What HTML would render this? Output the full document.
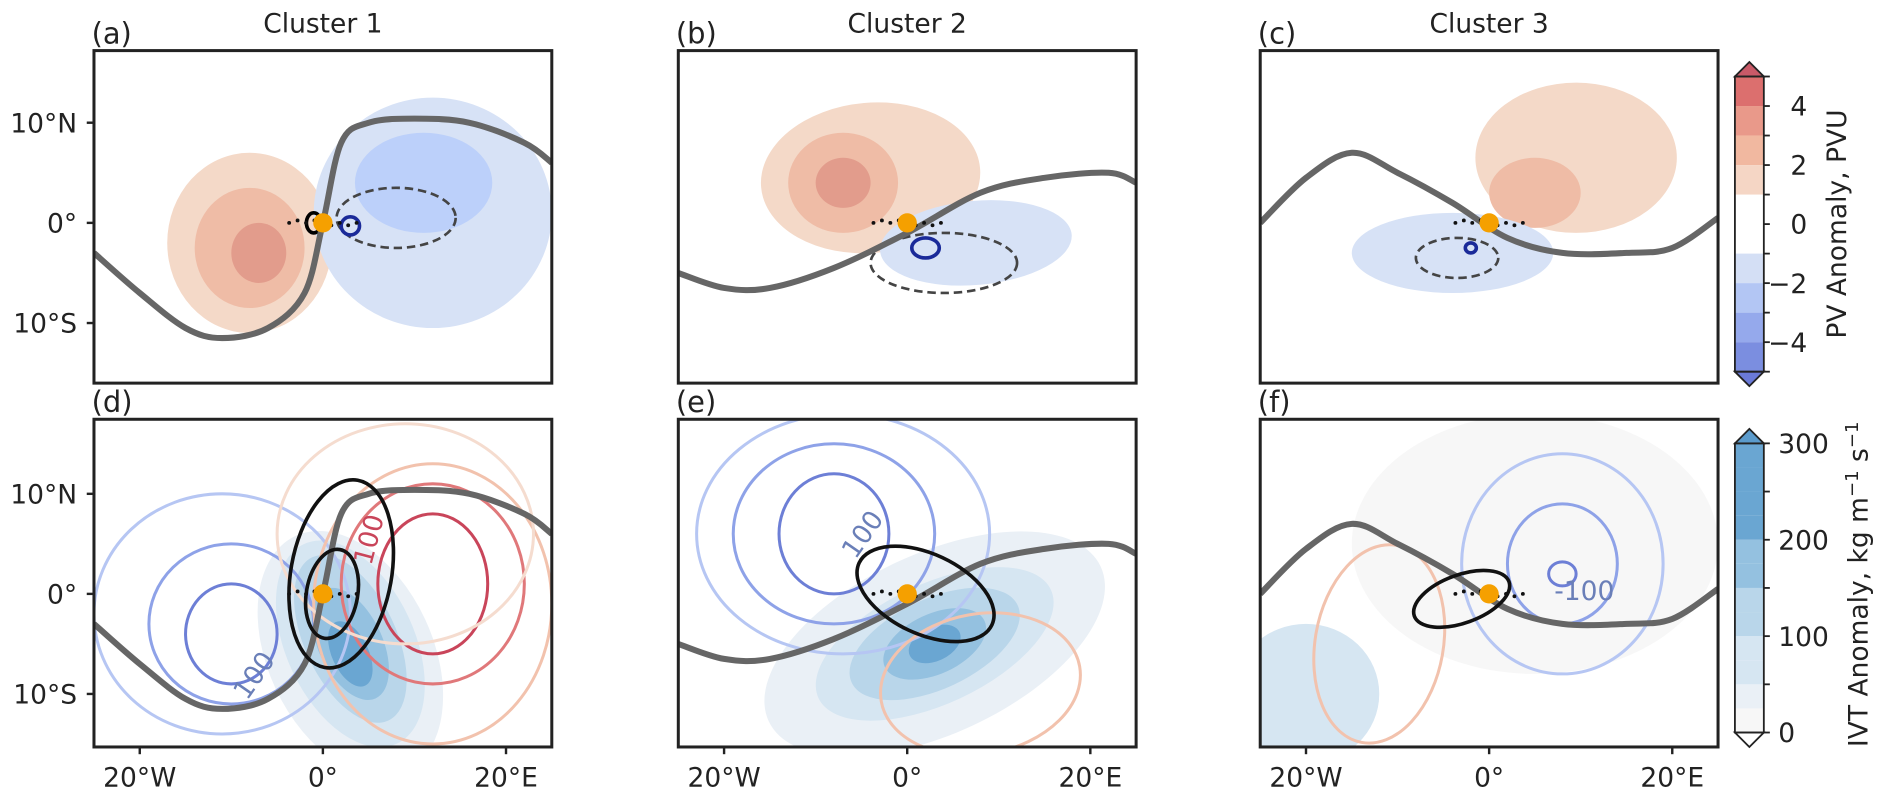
<!DOCTYPE html>
<html><head><meta charset="utf-8"><style>
html,body{margin:0;padding:0;background:#fff;overflow:hidden;width:1892px;height:804px}
#wrap{width:1892px;height:804px;overflow:hidden;position:relative}
#c{display:block;width:1892px;height:804px;transform:scale(1.2048);transform-origin:0 0;position:absolute;left:0;top:0}
svg text{font-family:"DejaVu Sans","Liberation Sans",sans-serif;fill:#222}
</style></head><body>
<div id="wrap">
<svg id="c" viewBox="0 0 1892 804" xmlns="http://www.w3.org/2000/svg"></svg>
</div>
<script>
// ---- data ----
const panelLetters=['(a)','(b)','(c)','(d)','(e)','(f)'];
const columnTitles=['Cluster 1','Cluster 2','Cluster 3'];
const latTicks=[10,0,-10];
const latTickLabels=['10°N','0°','10°S'];
const lonTicks=[-20,0,20];
const lonTickLabels=['20°W','0°','20°E'];
const pvTicks=[4,2,0,-2,-4];
const ivtTicks=[300,200,100,0];
// PV anomaly filled ellipses: [lon,lat,rLon,rLat,angleDeg,value]
const pvFillA=[[-8,-2,9,9,0,1],[-8,-2.5,6,6,0,2],[-7,-3,3,3,0,3],[12,1,13,11.5,0,-1],[11,4,7.5,5,0,-2]];
const pvFillB=[[-4,4.5,12,7.5,-5,1],[-7,4,6,5,0,2],[-7,4,3,2.5,0,3],[7.5,-2,10.5,4.2,-5,-1]];
const pvFillC=[[9.5,6.5,11,7.5,0,1],[5,3,5,3.5,0,2],[-4,-3,11,4,0,-1]];
// dashed (negative) and navy contours per top panel: [lon,lat,rLon,rLat,angle]
const dashedC=[[8,0.5,6.5,3,0],[4,-4,8,3,0],[-3.5,-3.5,4.5,2,0]];
const navyC=[[3,-0.3,1,0.9,0],[2,-2.5,1.5,1,0],[-2,-2.5,0.6,0.5,0]];
// IVT filled ellipses: [lon,lat,rLon,rLat,angle,value]
const ivtA=[[3,-6,9,13,-25,40],[3,-5,7,11,-25,80],[3,-4.5,5,9,-25,130],[3,-5,3.5,6,-25,180],[3,-6,2,3.5,-25,230]];
const ivtB=[[3,-5,20,9,-25,30],[3,-5,14,6,-25,80],[3,-5,10,4.5,-25,130],[3,-5,6,3,-25,180],[3,-5,3,1.7,-25,230]];
const ivtC=[[-20,-10,8,7,0,60],[5,5,20,13,0,15]];
// IVT contour ellipses: [lon,lat,rLon,rLat,angle,level]
const ctA=[[-11,-2,14,12,0,-100],[-10,-3,9,8,0,-200],[-10,-4,5,5,0,-300],[12,-1,13,14,0,100],[12,1,10,10,0,200],[12,1,6,7,0,300],[9,6,14,11,0,50]];
const ctB=[[-7,6,16,12,0,-100],[-8,6,11,9,0,-200],[-8,6,6,6,0,-300],[8,-9,11,7,-10,100]];
const ctC=[[8,3,11,11,0,-100],[8,3,6,6,0,-200],[8,2,1.5,1.2,0,-300],[-12,-5,7,10,10,100]];
// significance black contours
const blkA=[[2,2,5.5,9.5,10],[1,0,2.8,4.5,10]];
const blkB=[[2,0,8,4,25]];
const blkC=[[-3,-0.5,5.5,2.4,-20]];
// grey thick line (PV=2 contour) points [lon,lat]
const lineA=[[-25,-3],[-20,-7],[-15,-10.5],[-11,-11.5],[-6,-10.5],[-2,-7],[0,0],[2,8],[5,10],[10,10.4],[16,10],[22,8],[25,6]];
const lineB=[[-25,-5],[-20,-6.5],[-15,-6.5],[-8,-4.5],[0,-1],[8,3],[15,4.5],[22,5],[25,4]];
const lineC=[[-25,0],[-20,4.5],[-15,7],[-10,5],[-4,2],[2,-1.5],[8,-3],[15,-3],[20,-2.5],[25,0.5]];
// ---- helpers ----
const svg=document.getElementById('c');const NS='http://www.w3.org/2000/svg';
function el(t,a,p){const e=document.createElementNS(NS,t);for(const k in a)e.setAttribute(k,a[k]);(p||svg).appendChild(e);return e;}
const colX=[78,563,1046],W=380,rowY=[42,348],H=[276,272],latTop=[17.2,17.45],latBot=[-16,-15.3];
function xs(c,lon){return colX[c]+(lon+25)/50*W;}
function ys(r,lat){return rowY[r]+(latTop[r]-lat)/(latTop[r]-latBot[r])*H[r];}
function pvColor(v){const m={1:'#f4d9c8',2:'#efbca6',3:'#e29c8c','-1':'#d7e2f6','-2':'#bcd0fa','-3':'#9fb4ef'};return m[v];}
function ivtColor(v){if(v<25)return '#f7f7f7';if(v<50)return '#eaf0f6';if(v<100)return '#d6e6f2';if(v<150)return '#b9d6ea';if(v<200)return '#94c1e0';return '#6aa6d2';}
function ctColor(l){const m={'-300':'#6d7fd6','-200':'#8ea2e8','-100':'#b6c6f3',50:'#f5dccf',100:'#f2c2ad',200:'#e0787a',300:'#c9455a'};return m[l];}
function ell(c,r,e,g,fill,stroke,sw,dash){const cx=xs(c,e[0]),cy=ys(r,e[1]);const rx=e[2]*W/50,ry=e[3]*H[r]/(latTop[r]-latBot[r]);
 const a={cx:cx,cy:cy,rx:rx,ry:ry,transform:`rotate(${e[4]} ${cx} ${cy})`,fill:fill,stroke:stroke||'none','stroke-width':sw||0};if(dash)a['stroke-dasharray']=dash;return el('ellipse',a,g);}
function line(c,r,pts,g){const P=pts.map(p=>[xs(c,p[0]),ys(r,p[1])]);let d='M'+P[0][0].toFixed(1)+' '+P[0][1].toFixed(1);
 for(let i=0;i<P.length-1;i++){const p0=P[Math.max(0,i-1)],p1=P[i],p2=P[i+1],p3=P[Math.min(P.length-1,i+2)];
  const c1=[p1[0]+(p2[0]-p0[0])/6,p1[1]+(p2[1]-p0[1])/6],c2=[p2[0]-(p3[0]-p1[0])/6,p2[1]-(p3[1]-p1[1])/6];
  d+=` C${c1[0].toFixed(1)} ${c1[1].toFixed(1)} ${c2[0].toFixed(1)} ${c2[1].toFixed(1)} ${p2[0].toFixed(1)} ${p2[1].toFixed(1)}`;}
 const p=el('path',{d:d,fill:'none',stroke:'#666','stroke-width':5,'stroke-linejoin':'round'},g);}
const pvFills=[pvFillA,pvFillB,pvFillC],ivts=[ivtA,ivtB,ivtC],cts=[ctA,ctB,ctC],blks=[blkA,blkB,blkC],lines=[lineA,lineB,lineC];
let pi=0;
for(let r=0;r<2;r++)for(let c=0;c<3;c++){
 const cp=el('clipPath',{id:'cp'+pi});el('rect',{x:colX[c],y:rowY[r],width:W,height:H[r]},cp);
 const g=el('g',{'clip-path':`url(#cp${pi})`});
 if(r==0){pvFills[c].forEach(e=>{const x=ell(c,r,e,g,pvColor(e[5]));});
  const d=ell(c,r,dashedC[c],g,'none','#444',2.2,'7 4');
  const n=ell(c,r,navyC[c],g,'none','#1a2a99',3);
  if(c==0){const k=ell(c,r,[-1,0,0.8,1,0],g,'none','#000',3);}
 } else {
  ivts[c].forEach(e=>{const x=ell(c,r,e,g,ivtColor(e[5]));});
  cts[c].forEach(e=>{const x=ell(c,r,e,g,'none',ctColor(e[5]),2.5);});
 }
 line(c,r,lines[c],g);
 if(r==1)blks[c].forEach(e=>{const x=ell(c,r,e,g,'none','#111',3);});
 for(let i=-4;i<=4;i++){const d=el('circle',{cx:xs(c,0)+i*7,cy:ys(r,0)+(i%2)*2,r:1.6,fill:'#111'},g);}
 const dot=el('circle',{cx:xs(c,0),cy:ys(r,0),r:8,fill:'#f5a000'},g);
 const fr=el('rect',{x:colX[c],y:rowY[r],width:W,height:H[r],fill:'none',stroke:'#222','stroke-width':2.5});
 const lt=el('text',{x:colX[c]-2,y:rowY[r]-6,'font-size':24});lt.textContent=panelLetters[pi];
 if(r==0){const t=el('text',{x:colX[c]+190,y:27,'font-size':22,'text-anchor':'middle'});t.textContent=columnTitles[c];}
 if(c==0)latTicks.forEach((v,i)=>{const y=ys(r,v);const tk=el('line',{x1:colX[0]-6,x2:colX[0],y1:y,y2:y,stroke:'#222','stroke-width':2});
  const t=el('text',{x:colX[0]-14,y:y+8,'font-size':22,'text-anchor':'end'});t.textContent=latTickLabels[i];});
 if(r==1)lonTicks.forEach((v,i)=>{const x=xs(c,v);const tk=el('line',{x1:x,x2:x,y1:620,y2:626,stroke:'#222','stroke-width':2});
  const t=el('text',{x:x,y:653,'font-size':22,'text-anchor':'middle'});t.textContent=lonTickLabels[i];});
 pi++;}
[['100',205,582,-55,'#6a7fb8'],['100',308,470,-75,'#c9455a'],['100',710,465,-55,'#6a7fb8'],['-100',1290,498,0,'#6a7fb8']].forEach(l=>{const t=el('text',{x:l[1],y:l[2],'font-size':22,fill:l[4],transform:`rotate(${l[3]} ${l[1]} ${l[2]})`});t.style.fill=l[4];t.textContent=l[0];});
const cbX=1440,cbW=24;
function pvY(v){return 186+(0-v)*24.5;}
const pvBands=[[4,5,'#dc6f6e'],[3,4,'#e9998a'],[2,3,'#f1b8a0'],[1,2,'#f5d6c5'],[-2,-1,'#d4dff5'],[-3,-2,'#b3c6f4'],[-4,-3,'#95a9ec'],[-5,-4,'#7b8ee0']];
const cb1=el('g',{});
el('rect',{x:cbX,y:pvY(1),width:cbW,height:pvY(-1)-pvY(1),fill:'#fff'},cb1);
pvBands.forEach(b=>el('rect',{x:cbX,y:pvY(b[1]),width:cbW,height:pvY(b[0])-pvY(b[1]),fill:b[2]},cb1));
el('path',{d:`M${cbX} ${pvY(5)} L${cbX+12} ${pvY(5)-12} L${cbX+24} ${pvY(5)} Z`,fill:'#c95a68',stroke:'#222','stroke-width':1.5},cb1);
el('path',{d:`M${cbX} ${pvY(-5)} L${cbX+12} ${pvY(-5)+12} L${cbX+24} ${pvY(-5)} Z`,fill:'#6a7ad8',stroke:'#222','stroke-width':1.5},cb1);
el('rect',{x:cbX,y:pvY(5),width:cbW,height:pvY(-5)-pvY(5),fill:'none',stroke:'#222','stroke-width':1.5},cb1);
for(let v=-5;v<=5;v++)el('line',{x1:cbX+cbW,x2:cbX+cbW+5,y1:pvY(v),y2:pvY(v),stroke:'#222','stroke-width':1.5},cb1);
pvTicks.forEach(v=>{const t=el('text',{x:cbX+cbW+36,y:pvY(v)+8,'font-size':22,'text-anchor':'end'},cb1);t.textContent=v<0?'−'+(-v):v;});
const pt=el('text',{x:0,y:0,'font-size':22,'text-anchor':'middle',transform:`translate(1532 186) rotate(-90)`});pt.textContent='PV Anomaly, PVU';
function ivY(v){return 608-v*0.8;}
const cb2=el('g',{});
for(let v=0;v<300;v+=25)el('rect',{x:cbX,y:ivY(v+25),width:cbW,height:20,fill:ivtColor(v)},cb2);
el('path',{d:`M${cbX} ${ivY(300)} L${cbX+12} ${ivY(300)-12} L${cbX+24} ${ivY(300)} Z`,fill:'#5b9bcc',stroke:'#222','stroke-width':1.5},cb2);
el('path',{d:`M${cbX} ${ivY(0)} L${cbX+12} ${ivY(0)+12} L${cbX+24} ${ivY(0)} Z`,fill:'#fff',stroke:'#222','stroke-width':1.5},cb2);
el('rect',{x:cbX,y:ivY(300),width:cbW,height:240,fill:'none',stroke:'#222','stroke-width':1.5},cb2);
for(let v=0;v<=300;v+=50)el('line',{x1:cbX+cbW,x2:cbX+cbW+5,y1:ivY(v),y2:ivY(v),stroke:'#222','stroke-width':1.5},cb2);
ivtTicks.forEach(v=>{const t=el('text',{x:cbX+cbW+12,y:ivY(v)+8,'font-size':22},cb2);t.textContent=v;});
const it=el('text',{x:0,y:0,'font-size':22,'text-anchor':'middle',transform:`translate(1550 485) rotate(-90)`});it.innerHTML='IVT Anomaly, kg m<tspan dy="-8" font-size="15">−1</tspan><tspan dy="8"> s</tspan><tspan dy="-8" font-size="15">−1</tspan>';
</script></body></html>
